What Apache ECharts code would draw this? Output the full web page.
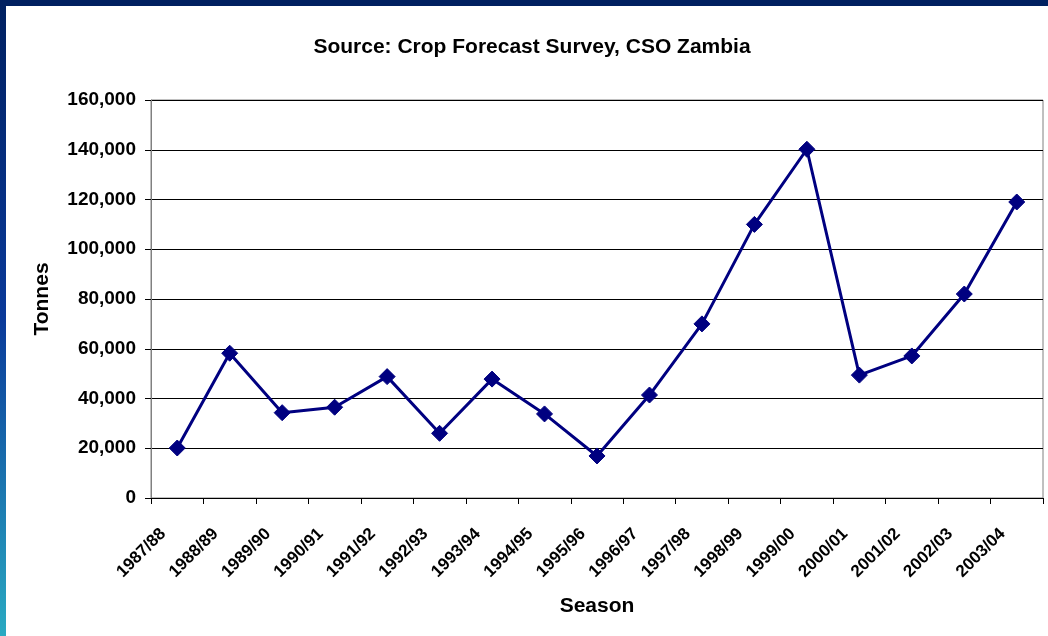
<!DOCTYPE html>
<html><head><meta charset="utf-8">
<script src="https://cdn.jsdelivr.net/npm/echarts@6/dist/echarts.min.js"></script>
<style>html,body{margin:0;padding:0;background:#fff}#c{width:1048px;height:636px}</style>
</head><body><div id="c"></div>
<script>
const seasons = ['1987/88','1988/89','1989/90','1990/91','1991/92','1992/93','1993/94','1994/95','1995/96','1996/97','1997/98','1998/99','1999/00','2000/01','2001/02','2002/03','2003/04'];
const tonnes = [20100, 58200, 34300, 36500, 48800, 26000, 47800, 33800, 16900, 41400, 70000, 110000, 140200, 49400, 57100, 82000, 119000];
const yTicks = [0, 20000, 40000, 60000, 80000, 100000, 120000, 140000, 160000];
const titleText = 'Source: Crop Forecast Survey, CSO Zambia';
const FONT = 'Arial, "Liberation Sans", sans-serif';

const chart = echarts.init(document.getElementById('c'), null, {renderer: 'canvas'});
chart.setOption({
  backgroundColor: '#ffffff',
  animation: false,
  graphic: [
    {type: 'rect', shape: {x: 0, y: 0, width: 1048, height: 6}, style: {fill: '#002060'}, z: 100},
    {type: 'rect', shape: {x: 0, y: 0, width: 6, height: 636}, z: 100,
      style: {fill: new echarts.graphic.LinearGradient(0, 0, 0, 1, [
        {offset: 0, color: '#002060'}, {offset: 0.5, color: '#0a3a9a'}, {offset: 1, color: '#2aaac2'}])}}
  ],
  title: {
    text: titleText, left: 527, top: 32, textAlign: 'center',
    textStyle: {fontFamily: FONT, fontWeight: 'bold', fontSize: 21, color: '#000'}
  },
  grid: {left: 151, right: 5, top: 100, bottom: 138, show: true, borderColor: '#808080', borderWidth: 1, backgroundColor: '#fff'},
  xAxis: {
    type: 'category', data: seasons, boundaryGap: true,
    name: 'Season', nameLocation: 'middle', nameGap: 98,
    nameTextStyle: {fontFamily: FONT, fontWeight: 'bold', fontSize: 21, color: '#000'},
    axisLine: {lineStyle: {color: '#000', width: 1}},
    axisTick: {show: true, alignWithLabel: false, length: 6, lineStyle: {color: '#000'}},
    axisLabel: {rotate: 45, margin: 19, padding: [0, 20, 0, 0], interval: 0, fontFamily: FONT, fontWeight: 'bold', fontSize: 17, color: '#000'},
    splitLine: {show: false}
  },
  yAxis: {
    type: 'value', min: 0, max: 160000, interval: 20000,
    name: 'Tonnes', nameLocation: 'middle', nameGap: 98, nameRotate: 90,
    nameTextStyle: {fontFamily: FONT, fontWeight: 'bold', fontSize: 21, color: '#000'},
    axisLine: {show: true, lineStyle: {color: '#808080', width: 1}},
    axisTick: {show: true, length: 6, lineStyle: {color: '#000'}},
    axisLabel: {
      margin: 15, fontFamily: FONT, fontWeight: 'bold', fontSize: 19, color: '#000',
      formatter: v => yTicks.includes(v) ? v.toLocaleString('en-US') : ''
    },
    splitLine: {show: true, lineStyle: {color: '#000', width: 1}}
  },
  series: [{
    type: 'line', data: tonnes,
    symbol: 'diamond', symbolSize: 16, showAllSymbol: true,
    lineStyle: {color: '#000080', width: 3},
    itemStyle: {color: '#000080', borderColor: '#000080'}
  }]
});
</script></body></html>
